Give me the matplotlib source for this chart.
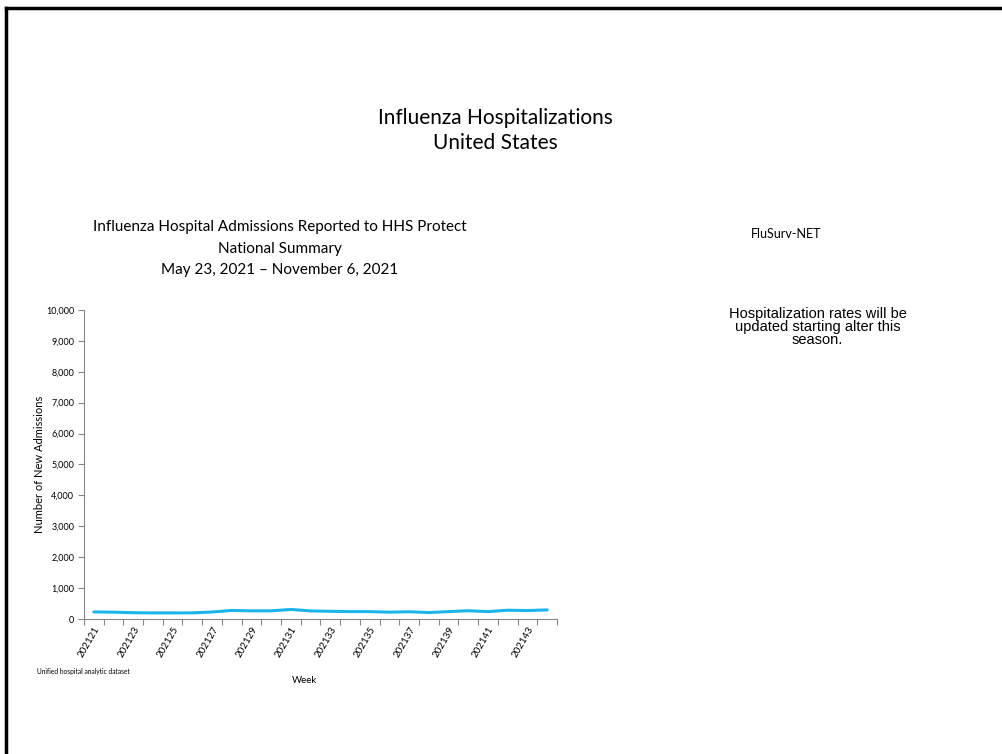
import matplotlib
matplotlib.use("Agg")
import matplotlib.pyplot as plt
from matplotlib.lines import Line2D
from matplotlib.ticker import FuncFormatter
import numpy as np

# weekly influenza admissions reported to HHS Protect
weeks = [str(202121 + i) for i in range(24)]
admissions = [230, 222, 205, 198, 198, 200, 228, 278, 265, 265, 310, 262,
              250, 240, 240, 222, 235, 210, 240, 268, 240, 285, 275, 295]
y_ticks = [0, 1000, 2000, 3000, 4000, 5000, 6000, 7000, 8000, 9000, 10000]

main_font = ["Lato", "DejaVu Sans"]
note_font = ["Liberation Sans", "DejaVu Sans"]

fig = plt.figure(figsize=(10.03, 7.54), dpi=100)

# slide frame (top and left edges)
fig.add_artist(Line2D([0.006, 0.006], [0.0, 0.989], color="black", lw=2.5,
                      transform=fig.transFigure))
fig.add_artist(Line2D([0.006, 1.0], [0.989, 0.989], color="black", lw=2.5,
                      transform=fig.transFigure))

fig.text(0.494, 0.843, "Influenza Hospitalizations", ha="center", va="center",
         fontsize=15, family=main_font)
fig.text(0.494, 0.810, "United States", ha="center", va="center",
         fontsize=15, family=main_font)

fig.text(0.279, 0.670, "Influenza Hospital Admissions Reported to HHS Protect\n"
         "National Summary\nMay 23, 2021 \u2013 November 6, 2021",
         ha="center", va="center", fontsize=11, family=main_font, linespacing=1.68)

fig.text(0.784, 0.690, "FluSurv-NET", ha="center", va="center",
         fontsize=9, family=main_font)
fig.text(0.815, 0.566, "Hospitalization rates will be\nupdated starting alter this\nseason.",
         ha="center", va="center", fontsize=10.5, family=note_font, linespacing=0.92)

ax = fig.add_axes([0.0837, 0.179, 0.4716, 0.41])
x = np.arange(len(weeks))
ax.plot(x, admissions, color="#1cb5ea", lw=2.2, solid_capstyle="round")
ax.set_xlim(-0.5, len(weeks) - 0.5)
ax.set_ylim(0, 10000)

ax.set_yticks(y_ticks)
ax.yaxis.set_major_formatter(FuncFormatter(lambda v, p: f"{int(v):,}"))
ax.set_xticks(np.arange(-0.5, len(weeks)), minor=False)
ax.set_xticklabels([])
ax.set_xticks(x[::2], minor=True)
ax.set_xticklabels(weeks[::2], minor=True, rotation=60, ha="right",
                   rotation_mode="anchor", fontsize=7, family=main_font)
ax.tick_params(axis="x", which="minor", length=0, pad=4)
ax.tick_params(axis="x", which="major", length=4, color="#888888")
ax.tick_params(axis="y", length=4, color="#888888", labelsize=6.5, pad=3)
for lab in ax.get_yticklabels():
    lab.set_family(main_font)

for side in ["top", "right"]:
    ax.spines[side].set_visible(False)
for side in ["left", "bottom"]:
    ax.spines[side].set_color("#888888")
    ax.spines[side].set_linewidth(0.8)

ax.set_ylabel("Number of New Admissions", fontsize=8, family=main_font, labelpad=1)
fig.text(0.304, 0.098, "Week", ha="center", va="center", fontsize=7, family=main_font)
fig.text(0.037, 0.109, "Unified hospital analytic dataset", ha="left", va="center",
         fontsize=4.8, family=main_font)

fig.savefig("out.png", dpi=100)
